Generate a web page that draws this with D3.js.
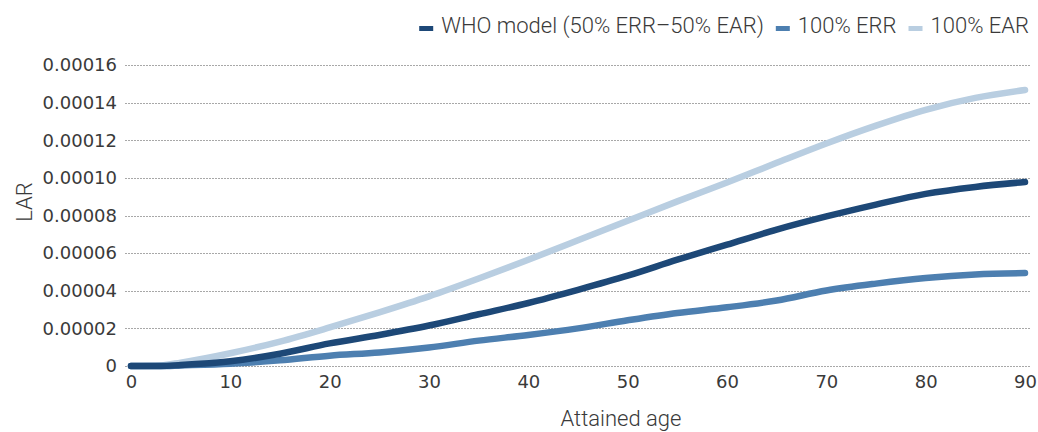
<!DOCTYPE html>
<html>
<head>
<meta charset="utf-8">
<script src="https://cdn.jsdelivr.net/npm/d3@7"></script>
<style>
  body { margin: 0; background: #fff; }
  text { fill: #3a3a3a; }
</style>
</head>
<body>
<div id="chart"></div>
<script>
// attained age (years) and lifetime attributable risk for each model
var ages =     [0, 3, 5, 10, 15, 20, 25, 30, 35, 40, 45, 50, 55, 60, 65, 70, 75, 80, 85, 90];
var whoModel = [0, 0, 0.0000005, 0.0000025, 0.0000065, 0.000012, 0.0000165, 0.0000215, 0.0000275, 0.0000335,
                0.0000405, 0.000048, 0.0000565, 0.0000645, 0.0000725, 0.0000795, 0.0000858, 0.0000915, 0.0000952, 0.0000978];
var err100 =   [0, 0, 0.0000003, 0.0000012, 0.000003, 0.0000055, 0.0000072, 0.0000098, 0.0000135, 0.0000165,
                0.00002, 0.0000243, 0.0000282, 0.0000312, 0.0000348, 0.0000401, 0.0000438, 0.0000468, 0.0000487, 0.0000494];
var ear100 =   [0, 0.0000003, 0.0000018, 0.0000068, 0.000013, 0.0000205, 0.0000285, 0.000037, 0.0000465, 0.0000565,
                0.0000668, 0.0000772, 0.0000875, 0.0000975, 0.000108, 0.0001183, 0.0001278, 0.0001362, 0.0001425, 0.0001467];
var xTicks = [0, 10, 20, 30, 40, 50, 60, 70, 80, 90];
var yTicks = [0, 0.00002, 0.00004, 0.00006, 0.00008, 0.0001, 0.00012, 0.00014, 0.00016];
var yTickLabels = ["0", "0.00002", "0.00004", "0.00006", "0.00008", "0.00010", "0.00012", "0.00014", "0.00016"];
var seriesNames = ["WHO model (50% ERR\u201350% EAR)", "100% ERR", "100% EAR"];
var seriesColors = ["#1d4877", "#4d7fb0", "#b9cee1"];

var width = 1038, height = 432;
var margin = {left: 131, right: 13, top: 65, bottom: 66};
var titleFont = "Roboto";

var svg = d3.select("#chart").append("svg")
    .attr("width", width)
    .attr("height", height);

var x = d3.scaleLinear().domain([0, 90]).range([margin.left, width - margin.right]);
var y = d3.scaleLinear().domain([0, 0.00016]).range([height - margin.bottom, margin.top]);

// horizontal grid lines
svg.append("g")
    .selectAll("line")
    .data(yTicks)
    .enter()
    .append("line")
    .attr("x1", x(0) - 6)
    .attr("x2", x(90) + 6)
    .attr("y1", function(d){ return Math.round(y(d)) + 0.5; })
    .attr("y2", function(d){ return Math.round(y(d)) + 0.5; })
    .style("stroke", "#a8a8a8")
    .style("stroke-width", 1)
    .style("stroke-dasharray", "2,1");

// y axis labels
var yAxis = d3.axisLeft(y)
    .tickValues(yTicks)
    .tickSize(0)
    .tickPadding(14)
    .tickFormat(function(d, i){ return yTickLabels[i]; });

svg.append("g")
    .attr("transform", "translate(" + x(0) + ",0)")
    .call(yAxis)
    .call(function(g){ g.select(".domain").remove(); })
    .selectAll("text")
    .style("font-family", "'DejaVu Sans'")
    .style("font-size", "18px")
    .style("fill", "#3a3a3a");

// x axis labels
var xAxis = d3.axisBottom(x)
    .tickValues(xTicks)
    .tickSize(0)
    .tickPadding(9);

svg.append("g")
    .attr("transform", "translate(0," + y(0) + ")")
    .call(xAxis)
    .call(function(g){ g.select(".domain").remove(); })
    .selectAll("text")
    .style("font-family", "'DejaVu Sans'")
    .style("font-size", "18px")
    .style("fill", "#3a3a3a");

// axis titles
svg.append("text")
    .attr("transform", "translate(32,202) rotate(-90)")
    .attr("text-anchor", "middle")
    .style("font-family", titleFont)
    .style("font-weight", 300)
    .style("font-size", "22px")
    .text("LAR");

svg.append("text")
    .attr("x", 621)
    .attr("y", 426)
    .attr("text-anchor", "middle")
    .style("font-family", titleFont)
    .style("font-weight", 300)
    .style("font-size", "22px")
    .text("Attained age");

// lines
var line = d3.line()
    .x(function(d){ return x(d[0]); })
    .y(function(d){ return y(d[1]); })
    .curve(d3.curveMonotoneX);

var allSeries = [ear100, err100, whoModel];
var drawColors = [seriesColors[2], seriesColors[1], seriesColors[0]];

svg.append("g")
    .selectAll("path")
    .data(allSeries)
    .enter()
    .append("path")
    .attr("d", function(s){ return line(ages.map(function(a, i){ return [a, s[i]]; })); })
    .style("fill", "none")
    .style("stroke", function(d, i){ return drawColors[i]; })
    .style("stroke-width", 6.5)
    .style("stroke-linecap", "round")
    .style("stroke-linejoin", "round");

// legend, laid out from the right edge
var legend = svg.append("g")
    .selectAll("g")
    .data(seriesNames)
    .enter()
    .append("g");

legend.append("rect")
    .attr("x", 0)
    .attr("y", -7)
    .attr("width", 14)
    .attr("height", 5)
    .style("fill", function(d, i){ return seriesColors[i]; });

legend.append("text")
    .attr("x", 22)
    .attr("y", 0)
    .style("font-family", titleFont)
    .style("font-weight", 300)
    .style("font-size", "22px")
    .text(function(d){ return d; });

var right = 1029;
var nodes = legend.nodes();
for (var i = nodes.length - 1; i >= 0; i--) {
    var w = 22 + d3.select(nodes[i]).select("text").node().getComputedTextLength();
    right -= w;
    d3.select(nodes[i]).attr("transform", "translate(" + right + ",33)");
    right -= 12;
}
</script>
</body>
</html>
